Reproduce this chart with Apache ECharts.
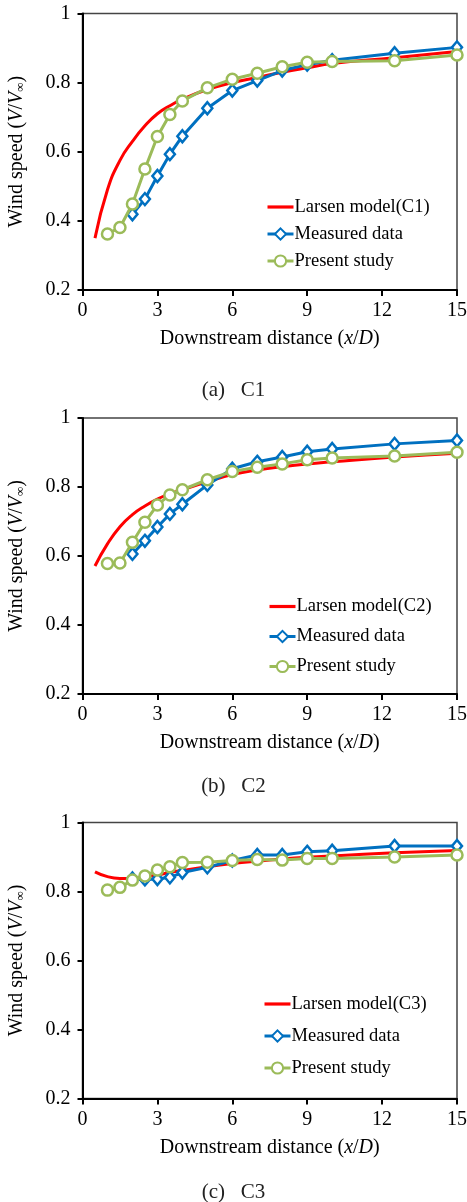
<!DOCTYPE html>
<html>
<head>
<meta charset="utf-8">
<script src="https://cdn.jsdelivr.net/npm/echarts@6/dist/echarts.min.js"></script>
<style>
  html, body { margin: 0; padding: 0; background: #fff; }
  #chart { width: 467px; height: 1202px; }
</style>
</head>
<body>
<div id="chart"></div>
<script>
// x positions (x/D)
const xLarsen = [0.5, 1, 1.5, 2, 2.5, 3, 3.5, 4, 5, 6, 7, 8, 9, 10, 12.5, 15];
const xMeasured = [2, 2.5, 3, 3.5, 4, 5, 6, 7, 8, 9, 10, 12.5, 15];
const xPresent = [1, 1.5, 2, 2.5, 3, 3.5, 4, 5, 6, 7, 8, 9, 10, 12.5, 15];

// C1
const larsenC1 = [0.35, 0.49, 0.575, 0.63, 0.675, 0.71, 0.733, 0.752, 0.78, 0.8, 0.815, 0.83, 0.843, 0.855, 0.872, 0.89];
const measuredC1 = [0.419, 0.463, 0.53, 0.593, 0.645, 0.726, 0.777, 0.806, 0.835, 0.852, 0.865, 0.885, 0.902];
const presentC1 = [0.362, 0.381, 0.449, 0.55, 0.644, 0.708, 0.747, 0.785, 0.81, 0.827, 0.846, 0.859, 0.861, 0.863, 0.88];

// C2
const larsenC2 = [0.571, 0.635, 0.685, 0.72, 0.745, 0.765, 0.78, 0.792, 0.815, 0.836, 0.849, 0.859, 0.867, 0.873, 0.887, 0.898];
const measuredC2 = [0.606, 0.644, 0.684, 0.722, 0.75, 0.806, 0.853, 0.873, 0.887, 0.902, 0.91, 0.925, 0.935];
const presentC2 = [0.578, 0.58, 0.64, 0.698, 0.748, 0.777, 0.792, 0.821, 0.845, 0.857, 0.867, 0.879, 0.884, 0.89, 0.901];

// C3
const larsenC3 = [0.857, 0.843, 0.838, 0.838, 0.842, 0.848, 0.855, 0.861, 0.872, 0.881, 0.888, 0.894, 0.899, 0.903, 0.912, 0.919];
const measuredC3 = [0.838, 0.835, 0.836, 0.841, 0.855, 0.87, 0.89, 0.906, 0.906, 0.915, 0.918, 0.932, 0.932];
const presentC3 = [0.804, 0.812, 0.833, 0.845, 0.862, 0.872, 0.884, 0.885, 0.89, 0.893, 0.891, 0.896, 0.896, 0.9, 0.906];

const xTicks = [0, 3, 6, 9, 12, 15];
const captions = ['(a)   C1', '(b)   C2', '(c)   C3'];
const larsenNames = ['Larsen model(C1)', 'Larsen model(C2)', 'Larsen model(C3)'];

const RED = '#FF0000';
const BLUE = '#0070C0';
const GREEN = '#9BBB59';
const SERIF = '"Liberation Serif", "Times New Roman", serif';

const panels = [
  { top: 13.5, height: 276.5, larsen: larsenC1, measured: measuredC1, present: presentC1, legendTop: 197, legendLeft: 266, gap: 7, capY: 392 },
  { top: 418, height: 276, larsen: larsenC2, measured: measuredC2, present: presentC2, legendTop: 596.5, legendLeft: 268, gap: 10, capY: 788 },
  { top: 822.5, height: 276, larsen: larsenC3, measured: measuredC3, present: presentC3, legendTop: 994, legendLeft: 263, gap: 12, capY: 1194 }
];

const zip = (xs, ys) => xs.map((x, i) => [x, ys[i]]);

const chart = echarts.init(document.getElementById('chart'));

const grid = [], xAxis = [], yAxis = [], series = [], legend = [], graphic = [];

panels.forEach((p, i) => {
  grid.push({
    left: 82.5, right: 10, top: p.top, height: p.height,
    outerBoundsMode: 'none', containLabel: false,
    show: true, borderColor: '#444', borderWidth: 1.5, backgroundColor: '#fff'
  });
  xAxis.push({
    type: 'value', gridIndex: i, min: 0, max: 15, interval: 3,
    name: '{t|Downstream distance (}{i|x}{t|/}{i|D}{t|)}',
    nameLocation: 'middle', nameGap: 39,
    nameTextStyle: {
      rich: {
        t: { fontFamily: SERIF, fontSize: 20, color: '#000' },
        i: { fontFamily: SERIF, fontSize: 20, color: '#000', fontStyle: 'italic' }
      }
    },
    axisLine: { onZero: false, lineStyle: { color: '#000', width: 2 } },
    axisTick: { show: true, inside: false, length: 6, lineStyle: { color: '#000', width: 2 } },
    axisLabel: { fontFamily: SERIF, fontSize: 20, color: '#000', margin: 11,
      formatter: v => (xTicks.includes(v) ? String(v) : '') },
    splitLine: { show: false }
  });
  yAxis.push({
    type: 'value', gridIndex: i, min: 0.2, max: 1, interval: 0.2,
    name: '{t|Wind speed (}{i|V}{t|/}{i|V}{s|∞}{t|)}',
    nameLocation: 'middle', nameGap: 55, nameRotate: 90,
    nameTextStyle: {
      rich: {
        t: { fontFamily: SERIF, fontSize: 20, color: '#000' },
        i: { fontFamily: SERIF, fontSize: 20, color: '#000', fontStyle: 'italic' },
        s: { fontFamily: SERIF, fontSize: 13, color: '#000', verticalAlign: 'bottom', padding: [8, 0, 0, 0] }
      }
    },
    axisLine: { onZero: false, lineStyle: { color: '#000', width: 2 } },
    axisTick: { show: true, inside: false, length: 5, lineStyle: { color: '#000', width: 2 } },
    axisLabel: { fontFamily: SERIF, fontSize: 20, color: '#000', margin: 12,
      formatter: v => (Math.abs(v - 1) < 1e-6 ? '1' : v.toFixed(1)) },
    splitLine: { show: false }
  });

  series.push({
    name: larsenNames[i], type: 'line', xAxisIndex: i, yAxisIndex: i,
    data: zip(xLarsen, p.larsen), smooth: true, showSymbol: false, symbol: 'none',
    lineStyle: { color: RED, width: 3 }, itemStyle: { color: RED }, z: 2
  });
  series.push({
    name: 'Measured data', type: 'line', xAxisIndex: i, yAxisIndex: i,
    data: zip(xMeasured, p.measured), symbol: 'diamond', symbolSize: [10, 12],
    lineStyle: { color: BLUE, width: 3 },
    itemStyle: { color: '#fff', borderColor: BLUE, borderWidth: 2.5 }, z: 3
  });
  series.push({
    name: 'Present study', type: 'line', xAxisIndex: i, yAxisIndex: i,
    data: zip(xPresent, p.present), symbol: 'circle', symbolSize: 11,
    lineStyle: { color: GREEN, width: 3 },
    itemStyle: { color: '#fff', borderColor: GREEN, borderWidth: 2.5 }, z: 4
  });

  legend.push({
    orient: 'vertical', left: p.legendLeft, top: p.legendTop, padding: 0,
    itemWidth: 26, itemHeight: 14, itemGap: p.gap,
    selectedMode: false,
    lineStyle: { width: 3 },
    data: [
      { name: larsenNames[i], icon: 'path://M0,0 L26,0 L26,3.2 L0,3.2 Z', itemStyle: { color: RED } },
      { name: 'Measured data' },
      { name: 'Present study' }
    ],
    textStyle: { fontFamily: SERIF, fontSize: 18.5, color: '#000', lineHeight: 20, padding: [0, 0, 0, -4] }
  });

  graphic.push({
    type: 'text', left: 'center', top: p.capY - 12,
    style: { text: captions[i], font: '21px ' + SERIF, fill: '#222' }
  });
});

chart.setOption({
  animation: false,
  backgroundColor: '#fff',
  grid, xAxis, yAxis, series, legend, graphic
});
</script>
</body>
</html>
